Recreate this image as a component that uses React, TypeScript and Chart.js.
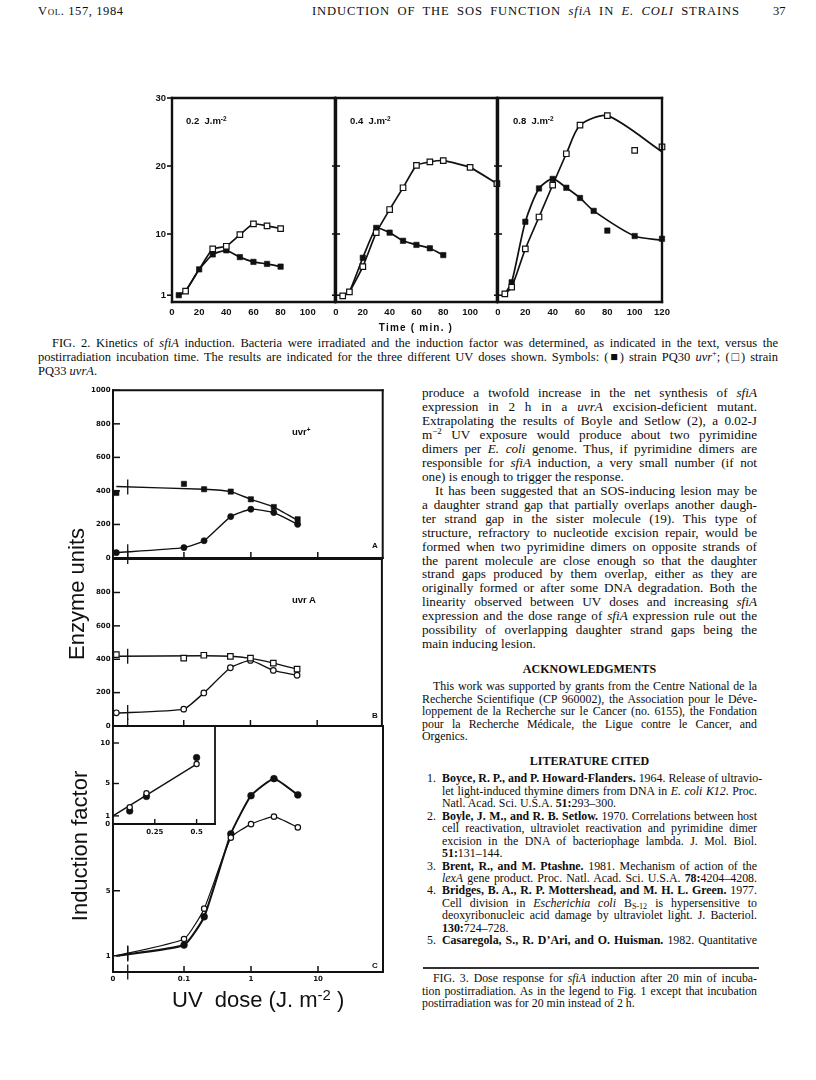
import React, { useEffect, useRef } from "react";
import { Chart, registerables } from "chart.js";

Chart.register(...registerables);

/* ---------------- Fig. 2 data: induction factor vs. time (min) ---------------- */
const fig2Times = [5, 10, 20, 30, 40, 50, 60, 70, 80, 100, 120];
const fig2XTicks = [0, 20, 40, 60, 80, 100, 120];
const fig2YTicks = [1, 10, 20, 30];
const fig2DoseLabels = ["0.2", "0.4", "0.8"];

// 0.2 J.m-2
const d02UvrPlusCurve = [1.0, 1.6, 4.8, 7.0, 7.6, 6.6, 5.9, 5.6, 5.2, null, null];
const d02UvrPlusMarks = [1.0, null, 4.8, 7.0, 7.6, 6.6, 5.9, 5.6, 5.2, null, null];
const d02UvrACurve = [1.0, 1.6, 4.8, 7.8, 8.2, 9.9, 11.5, 11.2, 10.8, null, null];
const d02UvrAMarks = [null, 1.6, null, 7.8, 8.2, 9.9, 11.5, 11.2, 10.8, null, null];
// 0.4 J.m-2
const d04UvrPlusCurve = [0.9, 1.5, 6.5, 10.9, 10.2, 9.0, 8.4, 7.9, 6.9, null, null];
const d04UvrPlusMarks = [null, null, 6.5, 10.9, 10.2, 9.0, 8.4, 7.9, 6.9, null, null];
const d04UvrACurve = [0.9, 1.5, 5.2, 10.2, 13.6, 16.8, 20.1, 20.6, 20.8, 19.8, 17.4];
const d04UvrAMarks = [0.9, 1.5, 5.2, 10.2, 13.6, 16.8, 20.1, 20.6, 20.8, 19.8, 17.4];
// 0.8 J.m-2
const d08UvrPlusCurve = [1.2, 2.9, 11.8, 16.7, 18.1, 16.8, 15.3, 13.4, null, 9.7, 9.1];
const d08UvrPlusMarks = [null, 2.9, 11.8, 16.7, 18.1, 16.8, 15.3, 13.4, 10.5, 9.7, 9.3];
const d08UvrACurve = [1.2, 2.2, 7.8, 12.5, 17.2, 21.8, 26.0, null, 27.4, null, 22.1];
const d08UvrAMarks = [1.2, 2.2, 7.8, 12.5, 17.2, 21.8, 26.0, null, 27.4, 22.3, 22.8];

/* ---------------- Fig. 3 data: dose response (UV dose, J.m-2) ---------------- */
const fig3Doses = [0, 0.1, 0.2, 0.5, 1, 2.2, 5];
const fig3XTickDoses = [0, 0.1, 1, 10];
const fig3XTickLabels = ["0", "0.1", "1", "10"];
// A: uvr+ enzyme units
const aSquaresCurve = [426, null, 410, 396, 350, 304, 225];
const aSquaresMarks = [388, 442, 410, 396, 350, 304, 231];
const aCirclesCurve = [32, 62, 103, 247, 291, 271, 201];
const aCirclesMarks = [32, 62, 103, 247, 291, 271, 201];
const aYTicks = [0, 200, 400, 600, 800, 1000];
// B: uvrA enzyme units
const bSquaresCurve = [418, null, 421, 418, 405, 377, 341];
const bSquaresMarks = [428, 407, 424, 417, 407, 377, 341];
const bCirclesCurve = [77, 101, 198, 349, 393, 333, 304];
const bCirclesMarks = [79, 101, 198, 349, 393, 333, 304];
const bYTicks = [0, 200, 400, 600, 800];
// C: induction factor
const cFilledCurve = [1.0, 1.66, 3.4, 8.5, 10.85, 11.9, 10.9];
const cFilledMarks = [null, 1.66, 3.4, 8.5, 10.85, 11.9, 10.9];
const cOpenCurve = [1.0, 2.03, 3.9, 8.27, 9.1, 9.56, 8.9];
const cOpenMarks = [null, 2.03, 3.9, 8.27, 9.1, 9.56, 8.9];
const cYTicks = [1, 5];
// inset (linear dose axis)
const insetDoses = [0, 0.1, 0.2, 0.5];
const insetFilled = [null, 1.6, 3.4, 8.2];
const insetOpen = [null, 2.06, 3.8, 7.4];
const insetFitDoses = [0, 0.5];
const insetFit = [1.0, 7.4];
const insetXTicks = [0.25, 0.5];
const insetYTicks = [0, 1, 5, 10];

/* ---------------- styling ---------------- */
const SERIF = '"Liberation Serif", "Times New Roman", serif';
const SANS = '"Liberation Sans", Arial, sans-serif';
const DJV = '"DejaVu Sans", sans-serif';
const INK = "#111111";

const FIG3_XMIN = -2.06;
const FIG3_XMAX = 1.97;
const FIG3_ZERO = -2.01;
const FIG3_BREAK = -1.84;
const toLog = (d: number) => (d > 0 ? Math.log10(d) : FIG3_ZERO);
const tickLog = (d: number) => (d > 0 ? Math.log10(d) : FIG3_XMIN);

type Box = { l: number; t: number; r: number; b: number; pl: number; pt: number; pr: number; pb: number };

function marks(o: any) {
  const seg = (ctx: any, x1: number, y1: number, x2: number, y2: number) => {
    ctx.beginPath();
    ctx.moveTo(x1, y1);
    ctx.lineTo(x2, y2);
    ctx.stroke();
  };
  return {
    id: "marks",
    beforeDatasetsDraw(chart: any) {
      if (!o.fill) return;
      const { left, top, right, bottom } = chart.chartArea;
      const ctx = chart.ctx;
      ctx.save();
      ctx.fillStyle = o.fill;
      ctx.fillRect(left, top, right - left, bottom - top);
      ctx.restore();
    },
    afterDatasetsDraw(chart: any) {
      const ctx = chart.ctx;
      const ca = chart.chartArea;
      const xs = chart.scales.x;
      const ys = chart.scales.y;
      ctx.save();
      ctx.strokeStyle = INK;
      ctx.lineCap = "butt";
      if (o.yTick) {
        ctx.lineWidth = o.yTick.lw;
        for (const t of ys.ticks) {
          if (o.yTick.skip && o.yTick.skip.indexOf(t.value) >= 0) continue;
          const py = ys.getPixelForValue(t.value);
          seg(ctx, ca.left - o.yTick.out, py, ca.left + o.yTick.inn, py);
        }
      }
      if (o.xTick) {
        ctx.lineWidth = o.xTick.lw;
        for (const t of xs.ticks) {
          if (o.xTick.skipMin && t.value <= xs.min + 1e-9) continue;
          const px = xs.getPixelForValue(t.value);
          seg(ctx, px, ca.bottom + o.xTick.out, px, ca.bottom - o.xTick.inn);
        }
      }
      if (o.brk) {
        const bx = xs.getPixelForValue(o.brk.at);
        ctx.lineWidth = o.brk.lw;
        for (const i of o.brk.ds) {
          const pts = chart.getDatasetMeta(i).data.filter((p: any) => !p.skip);
          for (let k = 0; k < pts.length - 1; k++) {
            const a = pts[k];
            const b = pts[k + 1];
            if (a.x <= bx && b.x >= bx) {
              const y = a.y + ((bx - a.x) / (b.x - a.x)) * (b.y - a.y);
              seg(ctx, bx, y - o.brk.len, bx, y + o.brk.len);
              break;
            }
          }
        }
        seg(ctx, bx, ca.bottom - o.brk.len, bx, ca.bottom + o.brk.len);
      }
      if (o.frame) {
        ctx.lineWidth = o.frame.lw;
        ctx.lineCap = "square";
        const [tp, rt, bt, lf] = o.frame.sides;
        if (tp) seg(ctx, ca.left, ca.top, ca.right, ca.top);
        if (rt) seg(ctx, ca.right, ca.top, ca.right, ca.bottom);
        if (bt) seg(ctx, ca.left, ca.bottom, ca.right, ca.bottom);
        if (lf) seg(ctx, ca.left, ca.top, ca.left, ca.bottom);
      }
      ctx.restore();
    },
  };
}

function axis(o: {
  which: "x" | "y";
  min: number;
  max: number;
  ticks: number[];
  labels: string[] | null;
  size: number;
  pad: number;
  fontSize: number;
  family: string;
}) {
  return {
    type: "linear",
    min: o.min,
    max: o.max,
    display: true,
    grid: { display: false, drawTicks: false },
    border: { display: false },
    afterBuildTicks: (s: any) => {
      s.ticks = o.ticks.map((v) => ({ value: v }));
    },
    afterFit: (s: any) => {
      if (o.which === "x") s.height = o.size;
      else s.width = o.size;
      s.paddingLeft = 0;
      s.paddingRight = 0;
      s.paddingTop = 0;
      s.paddingBottom = 0;
    },
    ticks: {
      display: !!o.labels,
      autoSkip: false,
      maxRotation: 0,
      minRotation: 0,
      padding: o.pad,
      color: INK,
      font: { family: o.family, size: o.fontSize, weight: "bold" },
      callback: (_v: any, i: number) => (o.labels ? o.labels[i] : ""),
    },
  };
}

function curveDs(xs: number[], ys: (number | null)[], width: number, tension: number) {
  return {
    data: xs.map((x, i) => ({ x, y: ys[i] })),
    showLine: true,
    borderColor: INK,
    borderWidth: width,
    pointRadius: 0,
    pointHoverRadius: 0,
    tension,
    spanGaps: true,
    fill: false,
    order: 5,
  };
}

function markDs(
  xs: number[],
  ys: (number | null)[],
  style: string,
  r: number,
  filled: boolean,
  order: number
) {
  return {
    data: xs.map((x, i) => ({ x, y: ys[i] })),
    showLine: false,
    pointStyle: style,
    pointRadius: r,
    pointHoverRadius: r,
    pointBackgroundColor: filled ? INK : "#ffffff",
    pointBorderColor: INK,
    pointBorderWidth: filled ? 0.6 : 1.2,
    order,
    clip: false,
  };
}

function baseOptions(box: Box, x: any, y: any) {
  return {
    responsive: false,
    maintainAspectRatio: false,
    animation: false,
    devicePixelRatio: 1,
    events: [],
    layout: { padding: { left: 0, top: box.pt, right: box.pr, bottom: 0 } },
    plugins: { legend: { display: false }, tooltip: { enabled: false } },
    scales: { x, y },
  };
}

function ChartCanvas({ box, build }: { box: Box; build: () => any }) {
  const ref = useRef<HTMLCanvasElement | null>(null);
  useEffect(() => {
    if (!ref.current) return;
    const chart = new Chart(ref.current, build());
    return () => chart.destroy();
  }, []);
  const w = box.r - box.l + box.pl + box.pr;
  const h = box.b - box.t + box.pt + box.pb;
  return (
    <canvas
      ref={ref}
      width={w}
      height={h}
      style={{ position: "absolute", left: box.l - box.pl, top: box.t - box.pt, width: w, height: h }}
    />
  );
}

/* ---------------- Fig. 2 panels ---------------- */
const fig2Panels = [
  { box: { l: 172, t: 98, r: 336, b: 302, pl: 42, pt: 6, pr: 4, pb: 20 }, yLabels: true, lastTick: false, fC: d02UvrPlusCurve, fM: d02UvrPlusMarks, oC: d02UvrACurve, oM: d02UvrAMarks, tension: 0.15, labelX: 186 },
  { box: { l: 336, t: 98, r: 498, b: 302, pl: 8, pt: 6, pr: 4, pb: 20 }, yLabels: false, lastTick: false, fC: d04UvrPlusCurve, fM: d04UvrPlusMarks, oC: d04UvrACurve, oM: d04UvrAMarks, tension: 0.15, labelX: 350 },
  { box: { l: 498, t: 98, r: 662, b: 302, pl: 8, pt: 6, pr: 10, pb: 20 }, yLabels: false, lastTick: true, fC: d08UvrPlusCurve, fM: d08UvrPlusMarks, oC: d08UvrACurve, oM: d08UvrAMarks, tension: 0.25, labelX: 513 },
];

function fig2Build(p: any) {
  return () => {
    const x = axis({
      which: "x", min: 0, max: 120, ticks: fig2XTicks,
      labels: fig2XTicks.map((v) => (v === 120 && !p.lastTick ? "" : String(v))),
      size: p.box.pb, pad: 4.5, fontSize: 9.5, family: SANS,
    });
    const y = axis({
      which: "y", min: 0, max: 30, ticks: fig2YTicks,
      labels: p.yLabels ? fig2YTicks.map(String) : null,
      size: p.box.pl, pad: 6, fontSize: 9.5, family: SANS,
    });
    const plugin = marks({
      frame: { lw: 2.4, sides: [1, 1, 1, 1] },
      yTick: p.yLabels ? { out: 5, inn: 0, lw: 1.6 } : { out: 4, inn: 4, lw: 1.6 },
    });
    return {
      type: "scatter",
      data: {
        datasets: [
          markDs(fig2Times, p.oM, "rect", 3.9, false, 0),
          markDs(fig2Times, p.fM, "rect", 3.8, true, 1),
          curveDs(fig2Times, p.fC, 1.7, p.tension),
          curveDs(fig2Times, p.oC, 1.7, p.tension),
        ],
      },
      options: baseOptions(p.box, x, y),
      plugins: [plugin],
    };
  };
}

/* ---------------- Fig. 3 panels ---------------- */
const fig3Boxes = {
  A: { l: 113, t: 390, r: 383, b: 558, pl: 32, pt: 4, pr: 4, pb: 6 },
  B: { l: 113, t: 558, r: 383, b: 726, pl: 32, pt: 4, pr: 4, pb: 6 },
  C: { l: 113, t: 726, r: 383, b: 972, pl: 32, pt: 4, pr: 4, pb: 18 },
  I: { l: 113, t: 726, r: 215, b: 824, pl: 22, pt: 4, pr: 4, pb: 16 },
};

function fig3Build(which: "A" | "B" | "C") {
  return () => {
    const box = fig3Boxes[which];
    const xsPos = fig3Doses.map(toLog);
    const x = axis({
      which: "x", min: FIG3_XMIN, max: FIG3_XMAX, ticks: fig3XTickDoses.map(tickLog),
      labels: which === "C" ? fig3XTickLabels : null,
      size: box.pb, pad: 3, fontSize: 7, family: DJV,
    });
    let yMax = 1000;
    let yTicks = aYTicks;
    let datasets: any[] = [];
    if (which === "A") {
      datasets = [
        markDs(xsPos, aSquaresMarks, "rect", 3.7, true, 0),
        markDs(xsPos, aCirclesMarks, "circle", 3.1, true, 1),
        curveDs(xsPos, aSquaresCurve, 1.4, 0.15),
        curveDs(xsPos, aCirclesCurve, 1.4, 0.15),
      ];
    } else if (which === "B") {
      yTicks = bYTicks;
      datasets = [
        markDs(xsPos, bSquaresMarks, "rect", 3.9, false, 0),
        markDs(xsPos, bCirclesMarks, "circle", 2.8, false, 1),
        curveDs(xsPos, bSquaresCurve, 1.4, 0.15),
        curveDs(xsPos, bCirclesCurve, 1.4, 0.15),
      ];
    } else {
      yMax = 15.14;
      yTicks = cYTicks;
      datasets = [
        markDs(xsPos, cOpenMarks, "circle", 2.7, false, 0),
        markDs(xsPos, cFilledMarks, "circle", 3.4, true, 1),
        curveDs(xsPos, cFilledCurve, 2.0, 0.15),
        curveDs(xsPos, cOpenCurve, 1.2, 0.15),
      ];
    }
    const y = axis({
      which: "y", min: 0, max: yMax, ticks: yTicks, labels: yTicks.map(String),
      size: box.pl, pad: 2.5, fontSize: 7, family: DJV,
    });
    const plugin = marks({
      frame: { lw: 2.0, sides: [1, 1, 1, 1] },
      yTick: { out: 1, inn: 7, lw: 1.5 },
      xTick: { out: 0, inn: 6, lw: 1.5, skipMin: true },
      brk: { at: FIG3_BREAK, len: 7.5, lw: 1.3, ds: [2, 3] },
    });
    return {
      type: "scatter",
      data: { datasets },
      options: baseOptions(box, x, y),
      plugins: [plugin],
    };
  };
}

function insetBuild() {
  const box = fig3Boxes.I;
  const x = axis({
    which: "x", min: 0, max: 0.61, ticks: insetXTicks, labels: insetXTicks.map(String),
    size: box.pb, pad: 4, fontSize: 7, family: DJV,
  });
  const y = axis({
    which: "y", min: 0, max: 12.1, ticks: insetYTicks, labels: insetYTicks.map(String),
    size: box.pl, pad: 3, fontSize: 7, family: DJV,
  });
  const plugin = marks({
    fill: "#ffffff",
    frame: { lw: 1.8, sides: [1, 1, 1, 1] },
    yTick: { out: 0, inn: 6, lw: 1.4, skip: [0] },
    xTick: { out: 0, inn: 5, lw: 1.4 },
  });
  return {
    type: "scatter",
    data: {
      datasets: [
        markDs(insetDoses, insetOpen, "circle", 2.6, false, 0),
        markDs(insetDoses, insetFilled, "circle", 3.3, true, 1),
        curveDs(insetFitDoses, insetFit, 1.4, 0),
      ],
    },
    options: baseOptions(box, x, y),
    plugins: [plugin],
  };
}

/* ---------------- text helpers ---------------- */
function rich(s: string): React.ReactNode[] {
  const parts = s.split(/(_[^_]+_|\*[^*]+\*|\^[^^]+\^|~[^~]+~)/g).filter((p) => p !== "");
  return parts.map((p, i) => {
    const inner = p.slice(1, -1);
    if (p.length > 2 && p[0] === "_" && p[p.length - 1] === "_") return <i key={i}>{inner}</i>;
    if (p.length > 2 && p[0] === "*" && p[p.length - 1] === "*") return <b key={i}>{inner}</b>;
    if (p.length > 2 && p[0] === "^" && p[p.length - 1] === "^")
      return <span key={i} style={{ fontSize: "0.68em", position: "relative", top: "-0.5em" }}>{inner}</span>;
    if (p.length > 2 && p[0] === "~" && p[p.length - 1] === "~")
      return <span key={i} style={{ fontSize: "0.68em", position: "relative", top: "0.3em" }}>{inner}</span>;
    return <React.Fragment key={i}>{p}</React.Fragment>;
  });
}

function T(props: {
  x: number; y: number; w?: number; size: number; text: string; family?: string; weight?: number;
  align?: "left" | "center" | "right"; just?: boolean; ls?: number; lh?: number; caps?: boolean;
}) {
  const { x, y, w, size, text, family = SERIF, weight = 400, align = "left", just = false, ls = 0, caps = false } = props;
  const L = props.lh ?? Math.round(size * 1.2);
  const al: any = just ? "justify" : align;
  return (
    <div
      style={{
        position: "absolute", left: x, top: y - L / 2 - 0.11 * size, width: w, fontSize: size,
        lineHeight: L + "px", fontFamily: family, fontWeight: weight, whiteSpace: "nowrap",
        textAlign: al, textAlignLast: al, letterSpacing: ls, color: "#0d0d0d",
        fontVariant: caps ? "small-caps" : "normal",
      }}
    >
      {rich(text)}
    </div>
  );
}

type Para = { lines: string[]; indent?: number; num?: string; lastJust?: boolean };

function Block({ x, y0, w, size, lh, paras, numX }: { x: number; y0: number; w: number; size: number; lh: number; paras: Para[]; numX?: number }) {
  const out: React.ReactNode[] = [];
  let k = 0;
  paras.forEach((p) => {
    p.lines.forEach((ln, j) => {
      const last = j === p.lines.length - 1 && !p.lastJust;
      const ind = j === 0 ? p.indent || 0 : 0;
      out.push(<T key={"l" + k} x={x + ind} y={y0 + k * lh} w={w - ind} size={size} lh={lh} text={ln} just={!last} />);
      if (j === 0 && p.num && numX !== undefined)
        out.push(<T key={"n" + k} x={numX} y={y0 + k * lh} size={size} lh={lh} text={p.num} />);
      k++;
    });
  });
  return <>{out}</>;
}

const bodyParas: Para[] = [
  {
    lines: [
      "produce a twofold increase in the net synthesis of _sfiA_",
      "expression in 2 h in a _uvrA_ excision-deficient mutant.",
      "Extrapolating the results of Boyle and Setlow (2), a 0.02-J",
      "m^\u22122^ UV exposure would produce about two pyrimidine",
      "dimers per _E. coli_ genome. Thus, if pyrimidine dimers are",
      "responsible for _sfiA_ induction, a very small number (if not",
      "one) is enough to trigger the response.",
    ],
  },
  {
    indent: 13,
    lines: [
      "It has been suggested that an SOS-inducing lesion may be",
      "a daughter strand gap that partially overlaps another daugh-",
      "ter strand gap in the sister molecule (19). This type of",
      "structure, refractory to nucleotide excision repair, would be",
      "formed when two pyrimidine dimers on opposite strands of",
      "the parent molecule are close enough so that the daughter",
      "strand gaps produced by them overlap, either as they are",
      "originally formed or after some DNA degradation. Both the",
      "linearity observed between UV doses and increasing _sfiA_",
      "expression and the dose range of _sfiA_ expression rule out the",
      "possibility of overlapping daughter strand gaps being the",
      "main inducing lesion.",
    ],
  },
];

const ackParas: Para[] = [
  {
    indent: 11,
    lines: [
      "This work was supported by grants from the Centre National de la",
      "Recherche Scientifique (CP 960002), the Association pour le D\u00e9ve-",
      "loppement de la Recherche sur le Cancer (no. 6155), the Fondation",
      "pour la Recherche M\u00e9dicale, the Ligue contre le Cancer, and",
      "Orgenics.",
    ],
  },
];

const refParas: Para[] = [
  {
    num: "1.",
    lines: [
      "*Boyce, R. P., and P. Howard-Flanders.* 1964. Release of ultravio-",
      "let light-induced thymine dimers from DNA in _E. coli K12_. Proc.",
      "Natl. Acad. Sci. U.S.A. *51:*293\u2013300.",
    ],
  },
  {
    num: "2.",
    lines: [
      "*Boyle, J. M., and R. B. Setlow.* 1970. Correlations between host",
      "cell reactivation, ultraviolet reactivation and pyrimidine dimer",
      "excision in the DNA of bacteriophage lambda. J. Mol. Biol.",
      "*51:*131\u2013144.",
    ],
  },
  {
    num: "3.",
    lines: [
      "*Brent, R., and M. Ptashne.* 1981. Mechanism of action of the",
      "_lexA_ gene product. Proc. Natl. Acad. Sci. U.S.A. *78:*4204\u20134208.",
    ],
    lastJust: true,
  },
  {
    num: "4.",
    lines: [
      "*Bridges, B. A., R. P. Mottershead, and M. H. L. Green.* 1977.",
      "Cell division in _Escherichia coli_ B~S-12~ is hypersensitive to",
      "deoxyribonucleic acid damage by ultraviolet light. J. Bacteriol.",
      "*130:*724\u2013728.",
    ],
  },
  {
    num: "5.",
    lines: ["*Casaregola, S., R. D\u2019Ari, and O. Huisman.* 1982. Quantitative"],
    lastJust: true,
  },
];

const fig3Caption: Para[] = [
  {
    indent: 11,
    lines: [
      "FIG. 3. Dose response for _sfiA_ induction after 20 min of incuba-",
      "tion postirradiation. As in the legend to Fig. 1 except that incubation",
      "postirradiation was for 20 min instead of 2 h.",
    ],
  },
];

const fig2Caption: Para[] = [
  {
    indent: 14,
    lines: [
      "FIG. 2. Kinetics of _sfiA_ induction. Bacteria were irradiated and the induction factor was determined, as indicated in the text, versus the",
      "postirradiation incubation time. The results are indicated for the three different UV doses shown. Symbols: (\u25a0) strain PQ30 _uvr_^+^; (\u25a1) strain",
      "PQ33 _uvrA_.",
    ],
  },
];

function Rotated({ cx, cy, size, text }: { cx: number; cy: number; size: number; text: string }) {
  const W = 220;
  return (
    <div
      style={{
        position: "absolute", left: cx - W / 2, top: cy - size / 2, width: W, height: size,
        lineHeight: size + "px", fontSize: size, fontFamily: SANS, textAlign: "center",
        transform: "rotate(-90deg)", transformOrigin: "50% 50%", whiteSpace: "nowrap", color: "#111",
      }}
    >
      {rich(text)}
    </div>
  );
}

export default function App() {
  return (
    <div style={{ position: "absolute", left: 0, top: 0, width: 816, height: 1080, background: "#ffffff", overflow: "hidden" }}>
      {/* running header */}
      <T x={38} y={13} size={12.5} ls={0.6} text="Vol. 157, 1984" caps />
      <T x={312} y={13} w={428} size={12.6} ls={0.9} just text="INDUCTION OF THE SOS FUNCTION _sfiA_ IN _E. COLI_ STRAINS" />
      <T x={773} y={13} size={12.5} text="37" />

      {/* Fig. 2 */}
      {fig2Panels.map((p, i) => (
        <ChartCanvas key={"f2" + i} box={p.box} build={fig2Build(p)} />
      ))}
      {fig2Panels.map((p, i) => (
        <T key={"f2l" + i} x={p.labelX} y={122} size={9.5} family={SANS} weight={700} text={fig2DoseLabels[i] + "\u00a0\u00a0J.m^-2^"} />
      ))}
      <T x={366} y={329} w={100} size={10} family={SANS} weight={700} align="center" ls={1.2} text="Time ( min. )" />
      <Block x={38} y0={344} w={740} size={12.5} lh={14} paras={fig2Caption} />

      {/* Fig. 3 */}
      <ChartCanvas box={fig3Boxes.A} build={fig3Build("A")} />
      <ChartCanvas box={fig3Boxes.B} build={fig3Build("B")} />
      <ChartCanvas box={fig3Boxes.C} build={fig3Build("C")} />
      <ChartCanvas box={fig3Boxes.I} build={insetBuild} />
      <T x={292} y={433} size={9.5} family={SANS} weight={700} text="uvr^+^" />
      <T x={292} y={601} size={9.5} family={SANS} weight={700} text="uvr A" />
      <T x={372} y={547} size={8} family={SANS} weight={700} text="A" />
      <T x={372} y={717} size={8} family={SANS} weight={700} text="B" />
      <T x={372} y={967} size={8} family={SANS} weight={700} text="C" />
      <Rotated cx={77} cy={594} size={22} text="Enzyme  units" />
      <Rotated cx={80} cy={846} size={22} text="Induction factor" />
      <div style={{ position: "absolute", left: 172, top: 989, fontSize: 22, lineHeight: "22px", fontFamily: SANS, whiteSpace: "nowrap", color: "#111" }}>
        {rich("UV\u00a0\u00a0dose (J. m^-2^ )")}
      </div>

      {/* right column */}
      <Block x={422} y0={394.3} w={335} size={13.2} lh={13.97} paras={bodyParas} />
      <T x={422} y={670} w={335} size={12} weight={700} align="center" text="ACKNOWLEDGMENTS" />
      <Block x={422} y0={688} w={335} size={11.9} lh={12.5} paras={ackParas} />
      <T x={422} y={762} w={335} size={12} weight={700} align="center" text="LITERATURE CITED" />
      <Block x={442} y0={780} w={315} size={11.9} lh={12.44} paras={refParas} numX={427} />
      <div style={{ position: "absolute", left: 423, top: 967, width: 336, height: 1.5, background: "#333" }} />
      <Block x={422} y0={980} w={335} size={11.8} lh={12.5} paras={fig3Caption} />
    </div>
  );
}
